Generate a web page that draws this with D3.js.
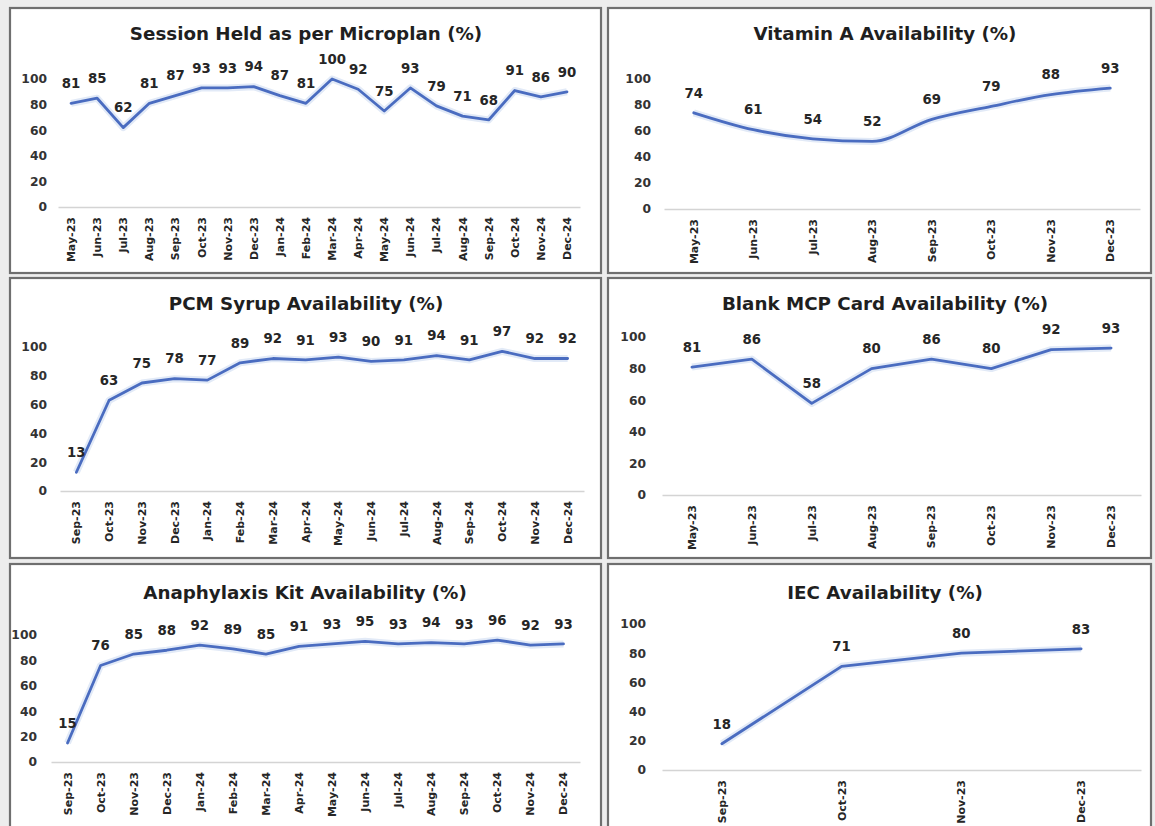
<!DOCTYPE html>
<html>
<head>
<meta charset="utf-8">
<script src="https://cdn.jsdelivr.net/npm/d3@7/dist/d3.min.js"></script>
<style>
  html, body { margin: 0; padding: 0; background: #ededed; }
  svg { display: block; }
</style>
</head>
<body>
<svg id="chart" width="1155" height="826"></svg>
<script>
// ---------- DATA ----------
const monthsMay23Dec24 = ["May-23","Jun-23","Jul-23","Aug-23","Sep-23","Oct-23","Nov-23","Dec-23","Jan-24","Feb-24","Mar-24","Apr-24","May-24","Jun-24","Jul-24","Aug-24","Sep-24","Oct-24","Nov-24","Dec-24"];
const monthsMay23Dec23 = ["May-23","Jun-23","Jul-23","Aug-23","Sep-23","Oct-23","Nov-23","Dec-23"];
const monthsSep23Dec24 = ["Sep-23","Oct-23","Nov-23","Dec-23","Jan-24","Feb-24","Mar-24","Apr-24","May-24","Jun-24","Jul-24","Aug-24","Sep-24","Oct-24","Nov-24","Dec-24"];
const monthsSep23Dec23 = ["Sep-23","Oct-23","Nov-23","Dec-23"];

const sessionHeld   = [81,85,62,81,87,93,93,94,87,81,100,92,75,93,79,71,68,91,86,90];
const vitaminA      = [74,61,54,52,69,79,88,93];
const pcmSyrup      = [13,63,75,78,77,89,92,91,93,90,91,94,91,97,92,92];
const blankMcpCard  = [81,86,58,80,86,80,92,93];
const anaphylaxis   = [15,76,85,88,92,89,85,91,93,95,93,94,93,96,92,93];
const iec           = [18,71,80,83];

const yTicks = [0,20,40,60,80,100];

const titles = [
  "Session Held as per Microplan (%)",
  "Vitamin A Availability (%)",
  "PCM Syrup Availability (%)",
  "Blank MCP Card Availability (%)",
  "Anaphylaxis Kit Availability (%)",
  "IEC Availability (%)"
];

// ---------- LAYOUT ----------
const panels = [
  { title: titles[0], cats: monthsMay23Dec24, vals: sessionHeld, smooth: false,
    box: [10, 8, 591, 265], titleX: 306, titleY: 33, ax: [58, 580], ay: [207, 79], tickX: 47 },
  { title: titles[1], cats: monthsMay23Dec23, vals: vitaminA, smooth: true,
    box: [608, 8, 543, 265], titleX: 885, titleY: 33, ax: [664, 1140], ay: [209, 79], tickX: 651 },
  { title: titles[2], cats: monthsSep23Dec24, vals: pcmSyrup, smooth: false,
    box: [10, 278, 591, 280], titleX: 306, titleY: 303, ax: [60, 584], ay: [491, 347], tickX: 47 },
  { title: titles[3], cats: monthsMay23Dec23, vals: blankMcpCard, smooth: false,
    box: [608, 278, 543, 280], titleX: 885, titleY: 303, ax: [662, 1141], ay: [495, 337], tickX: 646 },
  { title: titles[4], cats: monthsSep23Dec24, vals: anaphylaxis, smooth: false,
    box: [10, 564, 591, 280], titleX: 305, titleY: 592, ax: [51, 580], ay: [762, 635], tickX: 37 },
  { title: titles[5], cats: monthsSep23Dec23, vals: iec, smooth: false,
    box: [608, 564, 543, 280], titleX: 885, titleY: 592, ax: [662, 1141], ay: [770, 624], tickX: 646 }
];

const FONT = "'DejaVu Sans', sans-serif";
const svg = d3.select("#chart");

svg.append("rect").attr("x",0).attr("y",0).attr("width",1155).attr("height",826).attr("fill","#ededed");

panels.forEach(p => {
  const g = svg.append("g");
  const [bx, by, bw, bh] = p.box;
  g.append("rect").attr("x", bx).attr("y", by).attr("width", bw).attr("height", bh)
    .attr("fill", "#ffffff").attr("stroke", "#6f6f6f").attr("stroke-width", 2.2);

  g.append("text").attr("x", p.titleX).attr("y", p.titleY).attr("dy", "0.36em")
    .attr("text-anchor", "middle").attr("font-family", FONT).attr("font-weight", "bold")
    .attr("font-size", "18.3px").attr("fill", "#1f1f1f").text(p.title);

  const x = d3.scalePoint().domain(p.cats).range(p.ax).padding(0.5);
  const y = d3.scaleLinear().domain([0, 100]).range(p.ay);

  // y tick labels
  g.selectAll(".yt").data(yTicks).enter().append("text")
    .attr("x", p.tickX).attr("y", d => y(d)).attr("dy", "0.36em")
    .attr("text-anchor", "end").attr("font-family", FONT).attr("font-weight", "bold")
    .attr("font-size", "12.3px").attr("fill", "#333").text(d => d);

  // x axis line
  const xAxis = d3.axisBottom(x).tickSize(0).tickFormat("");
  const axg = g.append("g").attr("transform", `translate(0,${y(0)})`).call(xAxis);
  axg.select(".domain").attr("stroke", "#d4d4d4").attr("stroke-width", 1.5);

  // x labels (rotated)
  g.selectAll(".xl").data(p.cats).enter().append("text")
    .attr("transform", d => `translate(${x(d)},${y(0) + 10}) rotate(-90)`)
    .attr("dy", "0.36em").attr("text-anchor", "end")
    .attr("font-family", FONT).attr("font-weight", "bold").attr("font-size", "11px")
    .attr("fill", "#262626").text(d => d);

  // line
  const line = d3.line().x((d, i) => x(p.cats[i])).y(d => y(d))
    .curve(p.smooth ? d3.curveMonotoneX : d3.curveLinear);
  g.append("path").datum(p.vals).attr("d", line).attr("fill", "none")
    .attr("stroke", "#e2eaf7").attr("stroke-width", 7).attr("stroke-linejoin", "round");
  g.append("path").datum(p.vals).attr("d", line).attr("fill", "none")
    .attr("stroke", "#4a6cc0").attr("stroke-width", 2.8).attr("stroke-linejoin", "round")
    .attr("stroke-linecap", "round");

  // data labels
  g.selectAll(".dl").data(p.vals).enter().append("text")
    .attr("x", (d, i) => x(p.cats[i])).attr("y", d => y(d) - 20).attr("dy", "0.36em")
    .attr("text-anchor", "middle").attr("font-family", FONT).attr("font-weight", "bold")
    .attr("font-size", "13.3px").attr("fill", "#262626").text(d => d);
});
</script>
</body>
</html>
